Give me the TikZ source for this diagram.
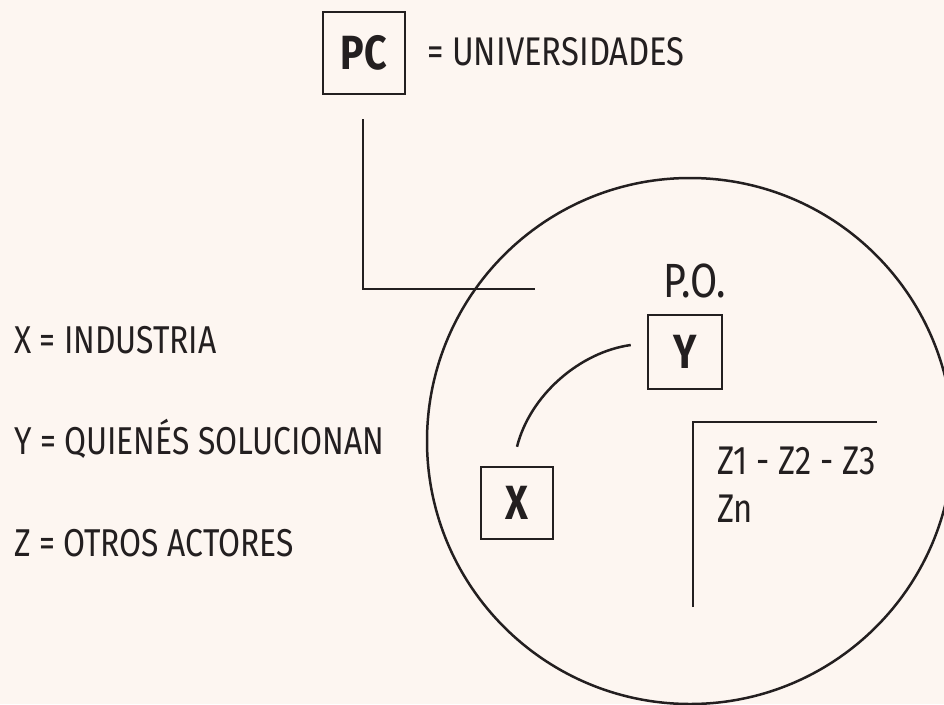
\documentclass[tikz,border=0pt]{standalone}
\usepackage{fontspec}
\setmainfont{Fira Sans}[FakeStretch=0.82]
\usetikzlibrary{calc}
\definecolor{bgc}{HTML}{FDF6F1}
\definecolor{ink}{HTML}{231F20}
\begin{document}
\begin{tikzpicture}[x=1pt,y=-1pt,
  line/.style={draw=ink,line width=2.5pt},
  boxnode/.style={draw=ink,line width=2.5pt,minimum width=#1,minimum height=#1,inner sep=0pt,text=ink,font=\fontsize{48}{50}\selectfont\bfseries},
  lbl/.style={anchor=base west,inner sep=0pt,text=ink,font=\fontsize{40}{44}\selectfont},
  leg/.style={lbl,font=\fontsize{38.8}{44}\selectfont},
  zlbl/.style={anchor=base west,inner sep=0pt,text=ink,font=\fontsize{40}{44}\selectfont}]
\fill[bgc] (0,0) rectangle (944,704);
\useasboundingbox (0,0) rectangle (944,704);
\begin{scope}
\clip (0,0) rectangle (944,704);
\draw[line] (690,441) circle[radius=263];
\end{scope}
% boxes
\node[boxnode=82pt] (PC) at (364,53) {PC};
\node[boxnode=74pt] (Y) at (685,352) {Y};
\node[boxnode=72pt] (X) at (517,503) {X};
% labels
\node[lbl] (univ) at (427,65) {= UNIVERSIDADES};
\node[leg] (lx) at (14,353) {X = INDUSTRIA};
\node[leg] (ly) at (14,454) {Y = QUIENÉS SOLUCIONAN};
\node[leg] (lz) at (14,556) {Z = OTROS ACTORES};
\node[lbl,font=\fontsize{48}{50}\selectfont] (po) at (663,297) {P.O.};
\node[zlbl] (z123) at (717,474) {Z1 - Z2 - Z3};
\node[zlbl] (zn) at (717,522) {Zn};
% connectors
\coordinate (pc1) at ($(PC.south)+(-1,24)$);
\coordinate (pc2) at (535,289);
\draw[line] (pc1) |- (pc2);
\coordinate (xa) at ($(X.north)+(0,-19)$);
\coordinate (ya) at ($(Y.west)+(-16,-7)$);
\draw[line] (xa) .. controls (530,395) and (580,352) .. (ya);
\coordinate (zb1) at (693,607);
\coordinate (zb2) at (877,422);
\draw[line] (zb1) |- (zb2);
\end{tikzpicture}
\end{document}
